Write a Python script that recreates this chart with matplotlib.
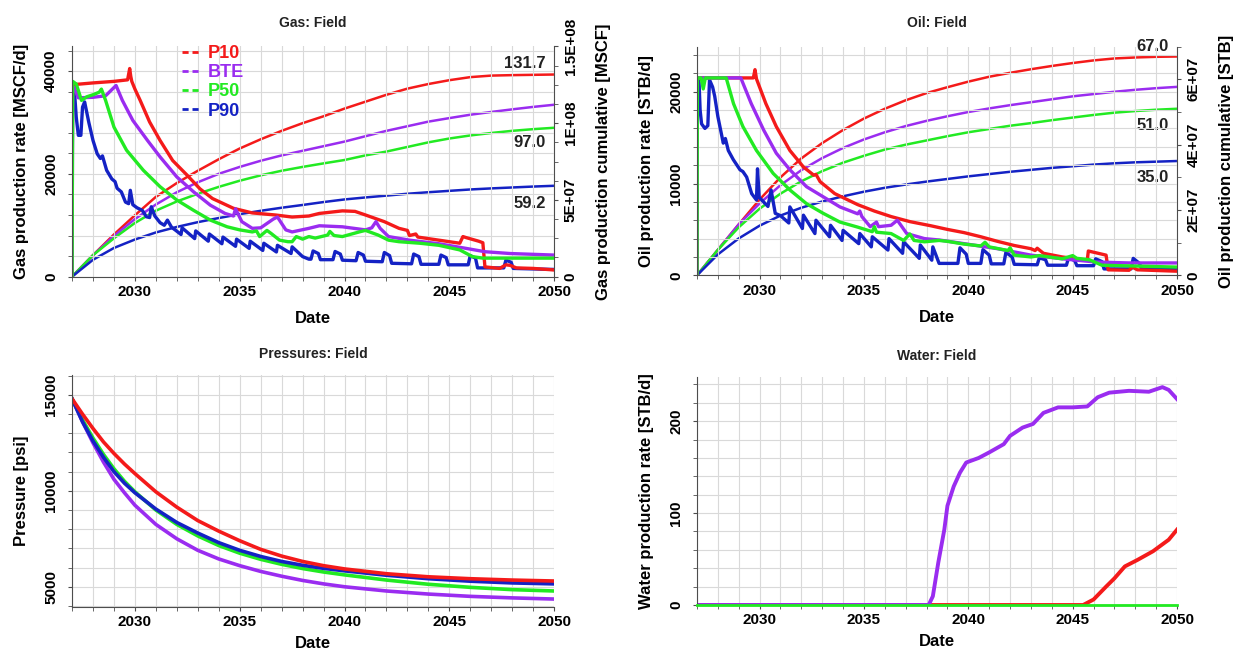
import numpy as np
import matplotlib
matplotlib.use('Agg')
import matplotlib.pyplot as plt
from matplotlib.ticker import MultipleLocator, FixedLocator, FixedFormatter
from matplotlib.lines import Line2D

plt.rcParams['font.family'] = ['Liberation Sans', 'DejaVu Sans']
plt.rcParams['font.weight'] = 'bold'

CASES = ['P10', 'BTE', 'P50', 'P90']
COLORS = {'P10': '#f41a1a', 'BTE': '#9a2cf0', 'P50': '#22ea22', 'P90': '#1422c4'}

# ---------------- Gas rate [MSCF/d] ----------------
gas_t_p10 = [2027.0, 2027.02, 2027.15, 2028.0, 2029.0, 2029.65, 2029.75, 2029.8, 2029.85, 2030.0, 2030.25,
             2030.7, 2031.2, 2031.8, 2032.5, 2033.1, 2033.7, 2034.7, 2035.6, 2036.7, 2037.5, 2038.3, 2038.8,
             2039.9, 2040.5, 2041.0, 2041.9, 2042.6, 2043.0, 2043.1, 2043.4, 2043.5, 2044.5, 2045.5, 2045.65,
             2045.8, 2046.4, 2046.6, 2046.7, 2047.4, 2047.7, 2047.9, 2048.2, 2049.0, 2050.0]
gas_p10 = [0, 37000, 37400, 37700, 38000, 38300, 40500, 39000, 38000, 36500, 34300,
           30100, 26500, 22600, 19700, 17100, 15200, 13300, 12400, 12000, 11600, 11800, 12300,
           12800, 12700, 12000, 10700, 9400, 9000, 8000, 8300, 7700, 7100, 6500, 7800,
           7600, 6900, 6600, 1900, 1600, 2300, 2200, 1700, 1600, 1300]

gas_t_bte = [2027.0, 2027.03, 2027.1, 2027.3, 2028.0, 2028.6, 2029.1, 2029.4, 2029.9, 2030.6, 2031.2,
             2032.0, 2032.8, 2033.6, 2034.3, 2034.7, 2034.8, 2035.1, 2035.6, 2036.0, 2036.6, 2036.8,
             2037.2, 2037.5, 2038.3, 2038.8, 2039.9, 2041.0, 2041.3, 2041.5, 2041.7, 2042.1, 2043.1,
             2044.5, 2045.8, 2046.7, 2047.9, 2050.0]
gas_bte = [0, 37000, 36800, 34800, 34900, 35200, 37200, 34300, 30400, 26500, 23300,
           19400, 16500, 13900, 12300, 11800, 13200, 10700, 9400, 9500, 11200, 11600,
           9100, 8700, 9400, 9900, 9700, 9100, 9500, 10700, 9400, 7800, 7100,
           6400, 5500, 4850, 4500, 4200]

gas_t_p50 = [2027.0, 2027.03, 2027.2, 2027.45, 2027.7, 2028.0, 2028.3, 2028.4, 2028.6, 2029.0, 2029.6,
             2030.4, 2031.2, 2032.0, 2032.8, 2033.6, 2034.4, 2035.0, 2035.6, 2035.8, 2035.95, 2036.3,
             2036.5, 2036.9, 2037.3, 2037.5, 2037.7, 2038.0, 2038.3, 2038.6, 2039.2, 2039.3, 2039.5,
             2039.9, 2040.7, 2041.0, 2041.6, 2042.1, 2042.6, 2043.6, 2044.5, 2045.5, 2046.1, 2046.6,
             2050.0]
gas_p50 = [0, 38000, 37500, 34300, 35000, 35400, 35900, 36500, 34300, 29100, 24600,
           20700, 17500, 14900, 12900, 11000, 9700, 9100, 8700, 8900, 7800, 9000,
           8400, 7100, 6800, 6800, 7800, 7300, 7800, 7500, 8100, 8800, 8000,
           7800, 8700, 9000, 8100, 7100, 6800, 6500, 6100, 5200, 3900, 3600,
           3600]

gas_t_p90 = [2027.0, 2027.02, 2027.1, 2027.2, 2027.3, 2027.42, 2027.5, 2027.6, 2027.8, 2028.0, 2028.2,
             2028.35, 2028.45, 2028.65, 2028.9, 2029.05, 2029.15, 2029.35, 2029.55, 2029.7, 2029.78,
             2029.9, 2030.1, 2030.35, 2030.55, 2030.7, 2030.78, 2030.95, 2031.2, 2031.4, 2031.55,
             2031.75, 2031.95, 2032.2, 2032.25, 2032.85, 2032.9, 2033.5, 2033.55, 2034.15, 2034.2,
             2034.8, 2034.85, 2035.45, 2035.5, 2036.1, 2036.15, 2036.75, 2036.8, 2037.45, 2037.5,
             2038.0, 2038.3, 2038.4, 2038.5, 2038.75, 2038.85, 2039.45, 2039.55, 2039.8, 2039.9,
             2040.55, 2040.65, 2040.9, 2041.0, 2041.8, 2041.9, 2042.15, 2042.25, 2043.2, 2043.3,
             2043.55, 2043.65, 2044.5, 2044.6, 2044.85, 2044.95, 2045.9, 2046.0, 2046.25, 2046.35,
             2047.6, 2047.7, 2047.95, 2048.05, 2050.0]
gas_p90 = [0, 36500, 37000, 31000, 27500, 27500, 33000, 34000, 30000, 26500, 23900,
           23000, 23500, 20700, 19000, 18500, 17200, 16500, 14500, 14200, 16800,
           14000, 13400, 12900, 11650, 11500, 13600, 11800, 10500, 10000, 11000,
           9600, 9000, 8200, 9500, 7400, 8900, 6900, 8300, 6400, 7700,
           5900, 7300, 5500, 6900, 5100, 6500, 4800, 6100, 4500, 5800,
           3900, 3400, 3400, 5000, 4500, 3300, 3300, 4900, 4400, 3200,
           3100, 4700, 4200, 3000, 2900, 4700, 4100, 2600, 2500, 4400,
           3900, 2400, 2400, 4200, 3700, 2300, 2300, 4100, 3600, 1700,
           1700, 3200, 2800, 1600, 1400]

# Gas cumulative [1E6 MSCF]
gcum_t = [2027, 2028, 2029, 2030, 2031, 2032, 2033, 2034, 2035, 2036, 2037, 2038, 2039, 2040,
          2041, 2042, 2043, 2044, 2045, 2046, 2047, 2048, 2049, 2050]
gcum_p10 = [0, 14, 27.5, 40, 52, 61, 69, 76.5, 83.5, 89.5, 95, 100, 104.5, 109.5,
            114, 118.5, 122.5, 125.5, 128, 130, 131, 131.3, 131.5, 131.7]
gcum_bte = [0, 14, 26.5, 37.5, 47, 55, 61.5, 67, 71.5, 75.5, 79, 82, 85, 88,
            91.5, 95, 98, 101, 103.3, 105.5, 107.3, 109, 110.6, 112]
gcum_p50 = [0, 14, 25, 35, 43, 49, 54, 58.5, 62.5, 66, 69, 71.5, 73.8, 76,
            79, 81.5, 84.5, 87.5, 90, 92, 93.6, 95, 96.1, 97.0]
gcum_p90 = [0, 11, 18.7, 24.2, 28.8, 32.4, 35.5, 38.2, 40.7, 42.9, 44.9, 46.7, 48.6, 50.3,
            51.6, 52.8, 54, 55, 55.9, 56.8, 57.5, 58.1, 58.7, 59.2]
gas_end_labels = {'P10': '131.7', 'P50': '97.0', 'P90': '59.2'}

# ---------------- Oil rate [STB/d] ----------------
oil_t_p10 = [2027.0, 2027.02, 2029.7, 2029.78, 2029.85, 2030.3, 2030.8, 2031.45, 2032.1, 2032.6, 2032.7,
             2032.9, 2033.6, 2034.7, 2035.5, 2036.3, 2037.2, 2038.2, 2039.0, 2039.8, 2040.6, 2041.4,
             2042.2, 2043.0, 2043.2, 2043.3, 2043.6, 2044.5, 2045.7, 2045.75, 2046.6, 2046.7, 2047.7,
             2047.85, 2048.1, 2050.0]
oil_p10 = [0, 21500, 21500, 22400, 21400, 18700, 16200, 13600, 11800, 10900, 11000,
           10200, 8900, 7700, 7000, 6400, 5850, 5400, 5000, 4650, 4200, 3700,
           3250, 2900, 2700, 2950, 2400, 2000, 1650, 2650, 2200, 600, 550,
           900, 600, 450]

oil_t_bte = [2027.0, 2027.02, 2029.1, 2029.6, 2030.2, 2030.8, 2031.45, 2032.25, 2033.05, 2033.85, 2034.7,
             2034.8, 2034.9, 2035.3, 2035.6, 2035.7, 2036.3, 2036.6, 2037.05, 2037.9, 2038.6, 2039.8,
             2041.4, 2043.0, 2044.5, 2046.1, 2047.7, 2050.0]
oil_bte = [0, 21500, 21500, 18700, 15800, 13300, 11500, 9650, 8550, 7450, 6700,
           7000, 6400, 5300, 5800, 5300, 5450, 6000, 4550, 4000, 3850, 3450,
           2900, 2200, 1800, 1450, 1350, 1350]

oil_t_p50 = [2027.0, 2027.02, 2027.2, 2027.3, 2027.4, 2028.4, 2028.75, 2029.2, 2029.85, 2030.65, 2031.45,
             2032.25, 2033.05, 2033.85, 2034.7, 2035.4, 2035.5, 2035.6, 2036.3, 2036.9, 2037.2, 2037.4,
             2037.9, 2038.6, 2039.0, 2039.8, 2040.6, 2040.8, 2041.0, 2041.9, 2042.0, 2042.2, 2043.0,
             2043.4, 2044.5, 2045.0, 2045.2, 2045.8, 2046.4, 2050.0]
oil_p50 = [0, 21500, 21500, 20300, 21500, 21500, 18700, 16200, 13600, 11100, 9300,
           7800, 6750, 5800, 5250, 4750, 5300, 4700, 4550, 3800, 4500, 3800,
           3650, 3800, 3700, 3400, 3200, 3600, 3100, 2700, 3000, 2200, 2000,
           2150, 1800, 2150, 1850, 1700, 1100, 900]

oil_t_p90 = [2027.0, 2027.02, 2027.1, 2027.15, 2027.22, 2027.38, 2027.52, 2027.6, 2027.75, 2027.85, 2028.0,
             2028.26, 2028.36, 2028.5, 2028.74, 2029.06, 2029.2, 2029.38, 2029.62, 2029.85, 2029.9,
             2029.98, 2030.4, 2030.55, 2030.75, 2031.0, 2031.4, 2031.45, 2032.05, 2032.1, 2032.65,
             2032.7, 2033.35, 2033.4, 2033.95, 2034.0, 2034.75, 2034.8, 2035.35, 2035.4, 2036.15,
             2036.2, 2036.85, 2036.9, 2037.65, 2037.7, 2038.25, 2038.3, 2038.6, 2039.5, 2039.6,
             2039.9, 2040.0, 2040.6, 2040.7, 2041.0, 2041.1, 2041.7, 2041.8, 2042.1, 2042.2,
             2043.3, 2043.4, 2043.7, 2043.8, 2044.7, 2044.8, 2045.1, 2045.2, 2046.0, 2046.1,
             2046.4, 2046.5, 2047.8, 2047.9, 2048.2, 2048.3, 2050.0]
oil_p90 = [0, 21500, 21000, 18000, 16500, 16000, 16300, 21300, 20500, 19500, 17300,
           14400, 14900, 13600, 12600, 11500, 11300, 10700, 8900, 8200, 11600,
           8500, 7500, 9300, 6750, 6500, 5700, 7450, 5100, 6550, 4550,
           6000, 4200, 5450, 3800, 4900, 3450, 4550, 3100, 4200, 2750,
           4000, 2400, 3650, 1850, 3300, 1650, 3100, 1300, 1300, 3000,
           2300, 1300, 1300, 2800, 2200, 1250, 1250, 2500, 2000, 1200,
           1150, 1900, 1700, 1100, 1100, 1900, 1600, 1050, 1050, 1800,
           1500, 700, 700, 1850, 1300, 700, 650]

# Oil cumulative [1E6 STB]
ocum_t = [2027, 2028, 2029, 2030, 2031, 2032, 2033, 2034, 2035, 2036, 2037, 2038, 2039, 2040,
          2041, 2042, 2043, 2044, 2045, 2046, 2047, 2048, 2049, 2050]
ocum_p10 = [0, 7.8, 15.6, 23.2, 30, 35.8, 40.5, 44.5, 48, 51, 53.6, 55.8, 57.6, 59.3,
            60.8, 62, 63.1, 64.1, 65, 65.8, 66.4, 66.7, 66.9, 67.0]
ocum_bte = [0, 7.8, 15.6, 22, 27.6, 32.2, 35.9, 39, 41.6, 43.8, 45.7, 47.3, 48.7, 50,
            51.1, 52.1, 53, 53.9, 54.8, 55.5, 56.2, 56.8, 57.3, 57.7]
ocum_p50 = [0, 7.8, 14.7, 20.4, 25, 28.8, 31.9, 34.5, 36.6, 38.5, 40, 41.3, 42.6, 43.8,
            44.8, 45.8, 46.6, 47.5, 48.3, 49.1, 49.8, 50.3, 50.7, 51.0]
ocum_p90 = [0, 6.4, 11.3, 15.2, 18.3, 20.7, 22.6, 24.2, 25.6, 26.8, 27.8, 28.7, 29.5, 30.3,
            31, 31.7, 32.3, 32.9, 33.4, 33.9, 34.3, 34.6, 34.8, 35.0]
oil_end_labels = {'P10': '67.0', 'P50': '51.0', 'P90': '35.0'}

# ---------------- Pressure [psi] ----------------
pres_t = [2027.0, 2027.5, 2028.0, 2028.5, 2029.0, 2029.5, 2030.0, 2031.0, 2032.0, 2033.0, 2034.0,
          2035.0, 2036.0, 2037.0, 2038.0, 2039.0, 2040.0, 2042.0, 2044.0, 2046.0, 2048.0, 2050.0]
pres_p10 = [14800, 14000, 13250, 12550, 11950, 11400, 10900, 9950, 9150, 8450, 7900,
            7400, 6950, 6600, 6320, 6100, 5930, 5680, 5520, 5420, 5350, 5300]
pres_bte = [14800, 13600, 12500, 11500, 10600, 9900, 9250, 8250, 7500, 6900, 6450,
            6100, 5800, 5550, 5330, 5150, 5000, 4780, 4620, 4500, 4420, 4360]
pres_p50 = [14800, 13700, 12750, 11900, 11150, 10500, 9950, 9000, 8250, 7650, 7150,
            6750, 6430, 6170, 5950, 5770, 5620, 5350, 5130, 4970, 4850, 4780]
pres_p90 = [14800, 13600, 12600, 11750, 11000, 10400, 9900, 9050, 8350, 7800, 7300,
            6900, 6580, 6320, 6120, 5960, 5830, 5600, 5420, 5290, 5200, 5150]

# ---------------- Water rate [STB/d] ----------------
wat_t_bte = [2027.0, 2038.1, 2038.3, 2038.56, 2038.85, 2039.0, 2039.3, 2039.6, 2039.9, 2040.5, 2041.0,
             2041.7, 2042.0, 2042.6, 2043.1, 2043.6, 2044.3, 2045.0, 2045.7, 2046.2, 2046.75, 2047.7,
             2048.65, 2049.3, 2049.6, 2050.0]
wat_bte = [0, 0, 9.5, 46, 82, 108, 129, 144, 155, 160, 166,
           175, 184, 193, 197, 209, 215, 215, 216, 226, 231, 233,
           232, 237, 234, 224]
wat_t_p10 = [2027.0, 2045.5, 2046.0, 2046.6, 2047.0, 2047.5, 2048.1, 2048.85, 2049.6, 2050.0]
wat_p10 = [0, 0, 6, 20, 29, 42, 49, 58.5, 71, 82]
wat_t_p50 = [2027.0, 2050.0]
wat_p50 = [0, 0]

GRID = '#d9d9d9'
SPINE = '#4d4d4d'


def style(ax, title, ylabel, title_pad, date_pad=9):
    ax.set_xlim(2027, 2050)
    ax.xaxis.set_major_locator(FixedLocator([2030, 2035, 2040, 2045, 2050]))
    ax.xaxis.set_minor_locator(MultipleLocator(1))
    ax.grid(True, which='both', color=GRID, lw=0.8)
    ax.set_axisbelow(True)
    ax.set_title(title, fontsize=10, fontweight='bold', pad=title_pad, color='#222222')
    ax.set_xlabel('Date', fontsize=12, fontweight='bold', labelpad=date_pad)
    ax.set_ylabel(ylabel, fontsize=12, fontweight='bold', labelpad=11)
    for s in ['top', 'right']:
        ax.spines[s].set_visible(False)
    for s in ['left', 'bottom']:
        ax.spines[s].set_color(SPINE)
    ax.tick_params(axis='both', which='both', direction='out', length=3, color=SPINE, labelsize=11)
    ax.tick_params(axis='x', pad=3)
    ax.tick_params(axis='y', pad=7, labelrotation=90)
    for lbl in ax.get_yticklabels():
        lbl.set_va('center')


def style_right(axr, ylabel):
    axr.tick_params(axis='y', which='both', direction='out', length=3, color=SPINE, labelsize=11,
                    labelrotation=90, pad=4)
    for lbl in axr.get_yticklabels():
        lbl.set_va('center')
    for s in ['top', 'left', 'bottom']:
        axr.spines[s].set_visible(False)
    axr.spines['right'].set_color(SPINE)
    axr.set_ylabel(ylabel, fontsize=12, fontweight='bold', labelpad=13)


fig = plt.figure(figsize=(12.36, 6.54), dpi=100)
ax1 = fig.add_axes([0.0583, 0.577, 0.390, 0.352])
ax2 = fig.add_axes([0.5639, 0.579, 0.3884, 0.3496])
ax3 = fig.add_axes([0.0583, 0.0723, 0.390, 0.3543])
ax4 = fig.add_axes([0.5639, 0.0749, 0.3884, 0.3486])

# ---- Gas ----
ax1r = ax1.twinx()
gcum = {'P10': gcum_p10, 'BTE': gcum_bte, 'P50': gcum_p50, 'P90': gcum_p90}
for c in CASES:
    ax1r.plot(gcum_t, np.array(gcum[c]) * 1e6, color=COLORS[c], lw=1.8)
gas = {'P10': (gas_t_p10, gas_p10), 'BTE': (gas_t_bte, gas_bte),
       'P50': (gas_t_p50, gas_p50), 'P90': (gas_t_p90, gas_p90)}
for c in ['P90', 'P10', 'BTE', 'P50']:
    ax1.plot(gas[c][0], gas[c][1], color=COLORS[c], lw=2.4)
ax1.set_zorder(ax1r.get_zorder() + 1)
ax1.patch.set_visible(False)
ax1.set_ylim(0, 44800)
ax1.yaxis.set_major_locator(FixedLocator([0, 20000, 40000]))
ax1.yaxis.set_minor_locator(MultipleLocator(4000))
style(ax1, 'Gas: Field', 'Gas production rate [MSCF/d]', 14)
ax1r.set_ylim(0, 1.5e8)
ax1r.yaxis.set_major_locator(FixedLocator([0, 5e7, 1e8, 1.5e8]))
ax1r.yaxis.set_major_formatter(FixedFormatter(['0', '5E+07', '1E+08', '1.5E+08']))
ax1r.yaxis.set_minor_locator(MultipleLocator(1.25e7))
style_right(ax1r, 'Gas production cumulative [MSCF]')
ax1r.text(2049.6, 1.39e8, gas_end_labels['P10'], ha='right', va='center', fontsize=12, fontweight='bold', color='#222222')
ax1r.text(2049.6, 0.872e8, gas_end_labels['P50'], ha='right', va='center', fontsize=12, fontweight='bold', color='#222222')
ax1r.text(2049.6, 0.476e8, gas_end_labels['P90'], ha='right', va='center', fontsize=12, fontweight='bold', color='#222222')

handles = [Line2D([], [], color=COLORS[c], lw=2, ls=(0, (2.2, 1.4))) for c in CASES]
leg = ax1.legend(handles, CASES, loc='upper left', bbox_to_anchor=(0.21, 1.045), frameon=False,
                 fontsize=13, handlelength=0.9, handletextpad=0.5, labelspacing=0.12, borderpad=0)
for txt, c in zip(leg.get_texts(), CASES):
    txt.set_color(COLORS[c])
    txt.set_fontweight('bold')

# ---- Oil ----
ax2r = ax2.twinx()
ocum = {'P10': ocum_p10, 'BTE': ocum_bte, 'P50': ocum_p50, 'P90': ocum_p90}
for c in CASES:
    ax2r.plot(ocum_t, np.array(ocum[c]) * 1e6, color=COLORS[c], lw=1.8)
oil = {'P10': (oil_t_p10, oil_p10), 'BTE': (oil_t_bte, oil_bte),
       'P50': (oil_t_p50, oil_p50), 'P90': (oil_t_p90, oil_p90)}
for c in ['P90', 'P10', 'BTE', 'P50']:
    ax2.plot(oil[c][0], oil[c][1], color=COLORS[c], lw=2.4)
ax2.set_zorder(ax2r.get_zorder() + 1)
ax2.patch.set_visible(False)
ax2.set_ylim(0, 24900)
ax2.yaxis.set_major_locator(FixedLocator([0, 10000, 20000]))
ax2.yaxis.set_minor_locator(MultipleLocator(2000))
style(ax2, 'Oil: Field', 'Oil production rate [STB/d]', 14)
ax2r.set_ylim(0, 7e7)
ax2r.yaxis.set_major_locator(FixedLocator([0, 2e7, 4e7, 6e7]))
ax2r.yaxis.set_major_formatter(FixedFormatter(['0', '2E+07', '4E+07', '6E+07']))
ax2r.yaxis.set_minor_locator(MultipleLocator(1e7))
style_right(ax2r, 'Oil production cumulative [STB]')
ax2r.text(2049.6, 7.02e7, oil_end_labels['P10'], ha='right', va='center', fontsize=12, fontweight='bold', color='#222222', clip_on=False)
ax2r.text(2049.6, 4.6e7, oil_end_labels['P50'], ha='right', va='center', fontsize=12, fontweight='bold', color='#222222')
ax2r.text(2049.6, 3.0e7, oil_end_labels['P90'], ha='right', va='center', fontsize=12, fontweight='bold', color='#222222')

# ---- Pressure ----
pres = {'P10': pres_p10, 'BTE': pres_bte, 'P50': pres_p50, 'P90': pres_p90}
for c in ['BTE', 'P50', 'P90', 'P10']:
    ax3.plot(pres_t, pres[c], color=COLORS[c], lw=2.6)
ax3.set_ylim(3960, 16040)
ax3.yaxis.set_major_locator(FixedLocator([5000, 10000, 15000]))
ax3.yaxis.set_minor_locator(MultipleLocator(1000))
style(ax3, 'Pressures: Field', 'Pressure [psi]', 12, date_pad=5)

# ---- Water ----
ax4.plot(wat_t_p10, wat_p10, color=COLORS['P10'], lw=2.8)
ax4.plot(wat_t_bte, wat_bte, color=COLORS['BTE'], lw=2.8)
ax4.plot(wat_t_p50, wat_p50, color=COLORS['P50'], lw=2.0, clip_on=False, zorder=5)
ax4.set_ylim(0, 248)
ax4.yaxis.set_major_locator(FixedLocator([0, 100, 200]))
ax4.yaxis.set_minor_locator(MultipleLocator(20))
style(ax4, 'Water: Field', 'Water production rate [STB/d]', 12, date_pad=5)

fig.savefig('out.png', dpi=100)
